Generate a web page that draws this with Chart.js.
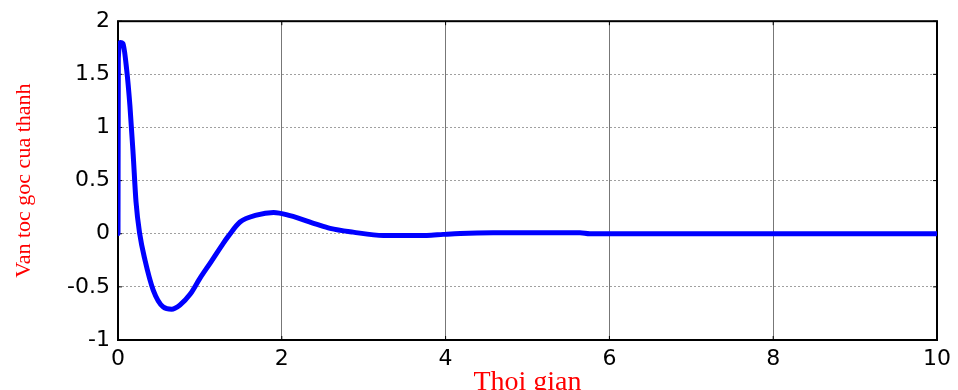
<!DOCTYPE html>
<html>
<head>
<meta charset="utf-8">
<script src="https://cdn.jsdelivr.net/npm/chart.js@4/dist/chart.umd.min.js"></script>
<style>
    html, body { margin: 0; padding: 0; background: #fff; }
    #khung { width: 958px; height: 390px; position: relative; }
</style>
</head>
<body>
<div id="khung"><canvas id="bieuDo"></canvas></div>
<script>
// thoi gian (s) va van toc goc doc tu hinh
const thoiGian = [0, 0.004, 0.03, 0.06, 0.105, 0.146, 0.185, 0.22, 0.265, 0.33, 0.43, 0.553, 0.655, 0.757,
    0.88, 1.0, 1.14, 1.285, 1.35, 1.49, 1.69, 1.9, 2.1, 2.42, 2.59, 2.87, 3.24, 3.77, 3.97, 4.18,
    4.58, 5.64, 5.76, 10];
const vanTocGoc = [0, 1.65, 1.8, 1.79, 1.55, 1.2, 0.75, 0.3, 0.0, -0.25, -0.53, -0.69, -0.71, -0.67,
    -0.57, -0.42, -0.26, -0.09, -0.02, 0.11, 0.175, 0.2, 0.17, 0.09, 0.05, 0.015, -0.016, -0.016, -0.006, 0.003,
    0.009, 0.009, 0, 0];

const nhanTrucX = [0, 2, 4, 6, 8, 10];
const nhanTrucY = [-1, -0.5, 0, 0.5, 1, 1.5, 2];

// khung hop kieu MATLAB + vach chia huong vao trong
const khungHop = {
    id: 'khungHop',
    beforeDatasetsDraw(chart) {
        const { ctx, chartArea: a, scales } = chart;
        ctx.save();
        ctx.strokeStyle = '#000';
        ctx.lineWidth = 2;
        ctx.strokeRect(a.left, a.top, a.right - a.left, a.bottom - a.top);
        ctx.lineWidth = 1;
        ctx.beginPath();
        nhanTrucX.forEach(v => {
            const x = scales.x.getPixelForValue(v);
            ctx.moveTo(x, a.bottom); ctx.lineTo(x, a.bottom - 4);
            ctx.moveTo(x, a.top); ctx.lineTo(x, a.top + 4);
        });
        nhanTrucY.forEach(v => {
            const y = scales.y.getPixelForValue(v);
            ctx.moveTo(a.left, y); ctx.lineTo(a.left + 4, y);
            ctx.moveTo(a.right, y); ctx.lineTo(a.right - 4, y);
        });
        ctx.stroke();
        ctx.restore();
    }
};

const ctx = document.getElementById('bieuDo').getContext('2d');
new Chart(ctx, {
    type: 'line',
    data: {
        datasets: [{
            data: thoiGian.map((t, i) => ({ x: t, y: vanTocGoc[i] })),
            borderColor: '#0000ff',
            borderWidth: 5,
            borderJoinStyle: 'round',
            borderCapStyle: 'round',
            cubicInterpolationMode: 'monotone',
            pointRadius: 0,
            fill: false
        }]
    },
    options: {
        responsive: true,
        maintainAspectRatio: false,
        animation: false,
        layout: {
            padding: { left: 0, top: 20, right: 21, bottom: 0 }
        },
        plugins: {
            legend: { display: false },
            tooltip: { enabled: false }
        },
        scales: {
            x: {
                type: 'linear',
                min: 0,
                max: 10,
                afterBuildTicks: (s) => { s.ticks = nhanTrucX.map(v => ({ value: v })); },
                afterFit: (s) => { s.height = 50; },
                border: { display: false },
                grid: { color: '#777777', lineWidth: 1, drawTicks: false },
                ticks: {
                    color: '#000',
                    padding: 6,
                    maxRotation: 0,
                    callback: (v) => String(v),
                    font: { family: 'DejaVu Sans', size: 22 }
                },
                title: {
                    display: true,
                    text: 'Thoi gian',
                    color: '#ff0000',
                    padding: { top: 0, bottom: 0 },
                    font: { family: 'Liberation Serif', size: 28, lineHeight: 0.55 }
                }
            },
            y: {
                min: -1,
                max: 2,
                afterBuildTicks: (s) => { s.ticks = nhanTrucY.map(v => ({ value: v })); },
                afterFit: (s) => { s.width = 118; },
                border: { display: false, dash: [2, 2] },
                grid: { color: '#a0a0a0', lineWidth: 1, drawTicks: false },
                ticks: {
                    color: '#000',
                    padding: 8,
                    callback: (v) => String(v),
                    font: { family: 'DejaVu Sans', size: 22 }
                },
                title: {
                    display: true,
                    text: 'Van toc goc cua thanh',
                    color: '#ff0000',
                    padding: { top: 11, bottom: 0 },
                    font: { family: 'Liberation Serif', size: 22, lineHeight: 1.2 }
                }
            }
        }
    },
    plugins: [khungHop]
});
</script>
</body>
</html>
